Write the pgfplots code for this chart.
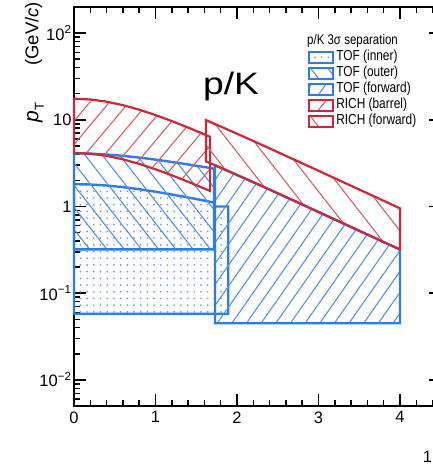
\documentclass[border=0pt]{standalone}
\usepackage{fontspec}
\setmainfont{Liberation Sans}
\newfontfamily\legfont[FakeStretch=0.82]{Liberation Sans}
\newfontfamily\bigfont[FakeStretch=1.2]{Liberation Sans}
\usepackage{pgfplots}
\pgfplotsset{compat=1.18}
\usetikzlibrary{patterns.meta}
\definecolor{tblue}{RGB}{45,125,232}
\definecolor{tbluehatch}{RGB}{85,145,232}
\definecolor{tdot}{RGB}{105,150,225}
\definecolor{rred}{RGB}{205,40,55}
\definecolor{rredhatch}{RGB}{215,95,100}
\begin{document}
\begin{tikzpicture}
\begin{axis}[
  scale only axis, width=366.75pt, height=399pt,
  at={(0pt,0pt)}, anchor=south west,
  xmin=0, xmax=4.5, ymin=0.005, ymax=200, ymode=log,
  clip=false,
  axis line style={line width=1.9pt, black},
  tick align=inside,
  major tick length=12pt, minor tick length=6pt,
  every tick/.append style={black, line width=1.5pt},
  xtick={0,1,2,3,4}, xticklabels={0,1,2,3,4},
  minor xtick={0.2,0.4,0.6,0.8,1.2,1.4,1.6,1.8,2.2,2.4,2.6,2.8,3.2,3.4,3.6,3.8,4.2,4.4},
  ytick={0.01,0.1,1,10,100},
  yticklabels={10\textsuperscript{−2},10\textsuperscript{−1},1,10,10\textsuperscript{2}},
  minor ytick={0.006,0.007,0.008,0.009,0.02,0.03,0.04,0.05,0.06,0.07,0.08,0.09,0.2,0.3,0.4,0.5,0.6,0.7,0.8,0.9,2,3,4,5,6,7,8,9,20,30,40,50,60,70,80,90},
  ticklabel style={font=\fontsize{16.5}{18}\selectfont},
  xticklabel style={yshift=-2pt},
  yticklabel style={xshift=1pt},
  legend cell align=left,
  legend style={draw=none, fill=none, at={(rel axis cs:0.6389,0.893)}, anchor=north west,
    inner sep=0pt, outer sep=0pt, row sep=0pt, column sep=2pt,
    nodes={inner sep=0pt, text height=11pt, text depth=5pt},
    font=\legfont\fontsize{14.5}{16}\selectfont},
  legend image code/.code={\draw[#1, line width=2pt] (0pt,-5.5pt) rectangle (24pt,5.5pt);},
]
\addplot[draw=tblue, line width=2.4pt, pattern={Dots[distance=6.7pt,radius=0.95pt]}, pattern color=tdot]
 coordinates {(0,0.058) (0,1.81) (0.2,1.794) (0.4,1.746) (0.6,1.673) (0.8,1.583) (1.0,1.481) (1.2,1.376) (1.4,1.271) (1.6,1.169) (1.72,1.110) (1.72,1.0) (1.893,1.0) (1.893,0.058)} -- cycle;
\addlegendentry{TOF (inner)}
\addplot[draw=tblue, line width=2.4pt, pattern={Lines[angle=-52,distance=13.6pt,line width=1.1pt]}, pattern color=tbluehatch]
 coordinates {(0,0.32) (0,4.1) (0.2,4.069) (0.4,3.979) (0.6,3.840) (0.8,3.667) (1.0,3.471) (1.2,3.264) (1.4,3.055) (1.6,2.850) (1.72,2.731) (1.72,0.32)} -- cycle;
\addlegendentry{TOF (outer)}
\addplot[draw=tblue, line width=2.4pt, pattern={Lines[angle=55,distance=12pt,line width=1.1pt]}, pattern color=tbluehatch]
 coordinates {(1.73,0.045) (1.73,2.991) (1.8,2.800) (2.0,2.312) (2.2,1.905) (2.4,1.566) (2.6,1.285) (2.8,1.054) (3.0,0.864) (3.2,0.708) (3.4,0.580) (3.6,0.475) (3.8,0.389) (4.0,0.319) (4.0,0.045)} -- cycle;
\addlegendentry{TOF (forward)}
\addplot[draw=rred, line width=2.2pt, pattern={Lines[angle=50,distance=15pt,line width=1.1pt]}, pattern color=rredhatch]
 coordinates {(0,4.15) (0,17.5) (0.2,17.155) (0.4,16.187) (0.6,14.762) (0.8,13.085) (1.0,11.341) (1.2,9.665) (1.4,8.136) (1.6,6.790) (1.67,6.363) (1.67,1.509) (1.6,1.610) (1.4,1.929) (1.2,2.292) (1.0,2.689) (0.8,3.103) (0.6,3.501) (0.4,3.839) (0.2,4.068)} -- cycle;
\addlegendentry{RICH (barrel)}
\addplot[draw=rred, line width=2.2pt, pattern={Lines[angle=-52,distance=20pt,line width=1.1pt]}, pattern color=rredhatch]
 coordinates {(1.62,3.314) (1.62,9.903) (1.8,8.367) (2.0,6.911) (2.2,5.692) (2.4,4.679) (2.6,3.841) (2.8,3.150) (3.0,2.583) (3.2,2.116) (3.4,1.733) (3.6,1.420) (3.8,1.163) (4.0,0.952) (4.0,0.319) (3.8,0.389) (3.6,0.475) (3.4,0.580) (3.2,0.708) (3.0,0.864) (2.8,1.054) (2.6,1.285) (2.4,1.566) (2.2,1.905) (2.0,2.312) (1.8,2.800)} -- cycle;
\addlegendentry{RICH (forward)}
\end{axis}
\node[anchor=base west, inner sep=0pt, font=\legfont\fontsize{14}{16}\selectfont] at (233pt,361pt) {p/K 3σ separation};
\node[anchor=base, inner sep=0pt, font=\bigfont\fontsize{31}{34}\selectfont] at (157pt,311pt) {p/K};
\node[rotate=90, anchor=base east, inner sep=0pt, font=\fontsize{18.5}{20}\selectfont] at (-35.7pt,404.3pt) {{\fontsize{21}{22}\selectfont\textit{p}}\raisebox{-0.3em}{\fontsize{13}{13}\selectfont T}\hspace{37pt}(GeV/\textit{c})};
\node[anchor=base, inner sep=0pt, font=\fontsize{16.5}{18}\selectfont] at (353.5pt,-56pt) {1};
\pgfresetboundingbox
\useasboundingbox (-74pt,-60pt) rectangle (359pt,406pt);
\end{tikzpicture}
\end{document}
